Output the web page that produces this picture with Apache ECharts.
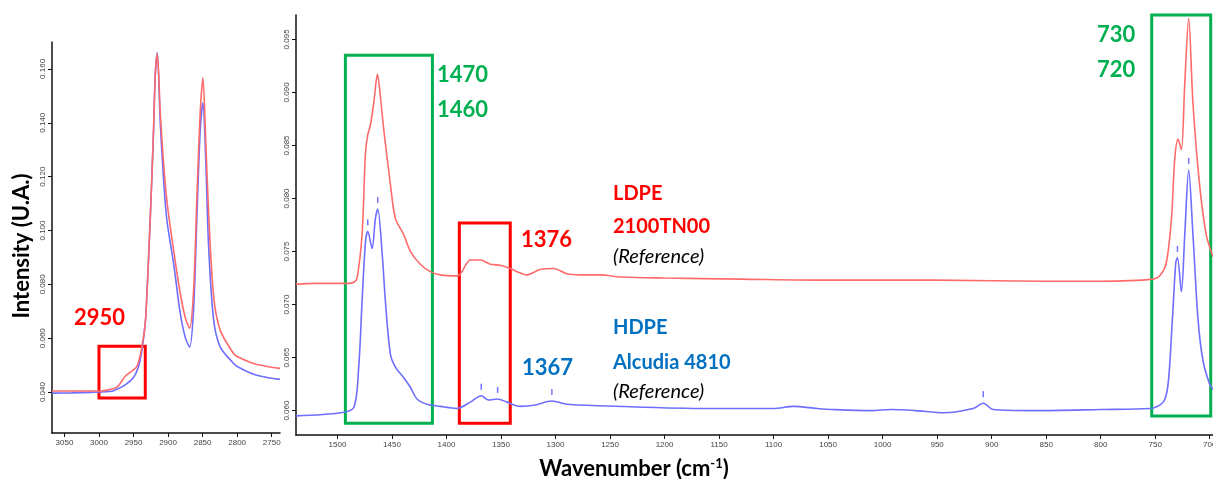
<!DOCTYPE html>
<html>
<head>
<meta charset="utf-8">
<script src="https://cdn.jsdelivr.net/npm/echarts@6/dist/echarts.min.js"></script>
<style>
  html, body { margin: 0; padding: 0; background: #fff; }
  #chart { width: 1213px; height: 479px; }
</style>
</head>
<body>
<div id="chart"></div>
<script>
// C-H stretching region (left panel): [wavenumber, intensity]
var ldpeCH = [
  [3068, 0.0404], [3040, 0.0404], [3010, 0.0404], [2998, 0.0404], [2985, 0.0409],
  [2974, 0.0418], [2962, 0.0459], [2954.6, 0.0474], [2945, 0.0496], [2937.7, 0.0571],
  [2933, 0.0656], [2930.5, 0.077], [2925.7, 0.105], [2921, 0.1373], [2918.5, 0.158],
  [2915.6, 0.1655], [2911.3, 0.1436], [2906.5, 0.125], [2901.7, 0.111], [2892, 0.0927],
  [2882.4, 0.0767], [2875.2, 0.0678], [2868.9, 0.0637], [2863, 0.078], [2858.3, 0.1124],
  [2853.5, 0.1436], [2849.6, 0.1567], [2846, 0.137], [2841.3, 0.1065], [2834, 0.0754],
  [2824.6, 0.063], [2805.5, 0.0544], [2800, 0.0532], [2775, 0.0505], [2750, 0.0492],
  [2738, 0.0488]
];
var hdpeCH = [
  [3068, 0.0396], [3040, 0.0397], [3010, 0.0399], [2998, 0.0400], [2985, 0.0402],
  [2978.8, 0.0405], [2962, 0.0427], [2950, 0.0454], [2942.6, 0.0496], [2937.7, 0.0558],
  [2933, 0.0656], [2930.5, 0.077], [2925.7, 0.105], [2921, 0.1373], [2918.5, 0.158],
  [2915.6, 0.166], [2911.3, 0.140], [2906.5, 0.119], [2901.7, 0.1038], [2892, 0.0878],
  [2882.4, 0.0693], [2875.2, 0.0604], [2868.9, 0.0567], [2863, 0.071], [2858.3, 0.105],
  [2853.5, 0.137], [2849.6, 0.1474], [2846, 0.130], [2841.3, 0.094], [2834, 0.0667],
  [2824.6, 0.0568], [2805.5, 0.0507], [2800, 0.0495], [2775, 0.0465], [2750, 0.0451],
  [2738, 0.0447]
];

// fingerprint region (right panel)
var ldpeFP = [
  [1538, 0.0719], [1520, 0.0720], [1500, 0.0720], [1490, 0.0720], [1485, 0.0721],
  [1482, 0.0725], [1477.4, 0.0766], [1474.3, 0.0843], [1472.2, 0.0860], [1469.8, 0.0869],
  [1466.7, 0.0890], [1463.3, 0.0917], [1460.5, 0.0895], [1457.5, 0.0865], [1451.4, 0.0813],
  [1446.8, 0.0781], [1439.2, 0.0766], [1433, 0.0750], [1424, 0.0738], [1414.8, 0.0731],
  [1405.6, 0.0728], [1390.4, 0.0727], [1385.8, 0.0731], [1382, 0.0738], [1378.1, 0.0742],
  [1369, 0.0742], [1359.8, 0.0738], [1350.6, 0.0737], [1341.5, 0.0734], [1335.4, 0.0731],
  [1326.2, 0.0728], [1314, 0.0733], [1301.8, 0.0734], [1289.6, 0.0729], [1277.4, 0.0728],
  [1259, 0.0728], [1240, 0.0726], [1200, 0.0725], [1130, 0.0724], [1050, 0.0723],
  [950, 0.0723], [850, 0.0722], [800, 0.0722], [752, 0.0724], [745, 0.0728],
  [739.7, 0.0740], [735.1, 0.0781], [732.1, 0.0837], [729.1, 0.0856], [726, 0.0846],
  [723, 0.0906], [719.3, 0.0970], [715.4, 0.0890], [709.3, 0.0813], [703.2, 0.0766],
  [697, 0.0745]
];
var hdpeFP = [
  [1538, 0.0595], [1497, 0.0598], [1485, 0.0603], [1480.5, 0.0641], [1477.4, 0.0703],
  [1474.3, 0.0759], [1472.2, 0.0769], [1468.2, 0.0753], [1465.2, 0.0781], [1463, 0.0790],
  [1459.1, 0.0750], [1456, 0.0703], [1451.4, 0.0653], [1446.8, 0.0641], [1439.2, 0.0631],
  [1433.1, 0.0622], [1427, 0.0611], [1417.8, 0.0606], [1405.6, 0.0604], [1390.4, 0.0602],
  [1378.1, 0.0608], [1368.1, 0.0614], [1361.4, 0.0610], [1353.1, 0.0611], [1344.6, 0.0608],
  [1332.3, 0.0604], [1320.1, 0.0605], [1303.3, 0.0609], [1289.6, 0.0606], [1271.3, 0.0605],
  [1167, 0.0602], [1100, 0.0602], [1081.8, 0.0604], [1060, 0.0602], [1045, 0.0601],
  [1010, 0.0600], [993, 0.0601], [970, 0.0600], [944, 0.0598], [917, 0.0602],
  [907.7, 0.0607], [898.6, 0.0601], [862, 0.0600], [800, 0.0601], [755, 0.0602],
  [742.7, 0.0608], [738.2, 0.0625], [734.2, 0.0687], [731.1, 0.0740], [729.6, 0.0744],
  [726, 0.0712], [722.9, 0.0766], [719.3, 0.0827], [715.4, 0.0766], [710.8, 0.0687],
  [706.2, 0.0647], [700.1, 0.0625], [697, 0.0620]
];
// small peak markers on the HDPE trace
var hdpePeaks = [
  [1472.2, 0.0769], [1463, 0.0790], [1368.1, 0.0614], [1353.1, 0.0611],
  [1303.3, 0.0609], [907.7, 0.0607], [729.6, 0.0744], [719.3, 0.0827]
];

// tick labels
var xTicksCH = [3050, 3000, 2950, 2900, 2850, 2800, 2750];
var yTicksCH = [0.04, 0.06, 0.08, 0.10, 0.12, 0.14, 0.16];
var xTicksFP = [1500, 1450, 1400, 1350, 1300, 1250, 1200, 1150, 1100, 1050, 1000, 950, 900, 850, 800, 750, 700];
var yTicksFP = [0.060, 0.065, 0.070, 0.075, 0.080, 0.085, 0.090, 0.095];

// highlighted bands: [from wn, to wn, low, high]
var boxCH = [[3000, 2933, 0.0378, 0.0570]];
var boxFPgreen = [[1492.7, 1412.9, 0.0588, 0.0935], [753.2, 699.1, 0.0595, 0.0973]];
var boxFPred = [[1388.2, 1341.5, 0.0588, 0.0777]];

var RED_LINE = '#ff6b6b', BLUE_LINE = '#6e6eff';
var GREEN = '#00b050', RED = '#ff0000', BLUE = '#0070c0';

function areas(list, color) {
  return list.map(function (b) {
    return [
      { xAxis: b[0], yAxis: b[2], itemStyle: { color: 'rgba(0,0,0,0)', borderColor: color, borderWidth: 3 } },
      { xAxis: b[1], yAxis: b[3] }
    ];
  });
}

function xAxisOf(idx, min, max, ticks) {
  return {
    type: 'value', gridIndex: idx, inverse: true, min: min, max: max,
    splitLine: { show: false },
    axisLine: { lineStyle: { color: '#111', width: 1.5 } },
    axisTick: { customValues: ticks, length: 4, lineStyle: { color: '#111' } },
    axisLabel: { customValues: ticks, fontSize: 8, color: '#444', margin: 6, fontFamily: 'Liberation Sans',
      formatter: function (v) { return String(v); } }
  };
}
function yAxisOf(idx, min, max, ticks) {
  return {
    type: 'value', gridIndex: idx, min: min, max: max,
    splitLine: { show: false },
    axisLine: { show: true, lineStyle: { color: '#111', width: 1.5 } },
    axisTick: { show: true, customValues: ticks, length: 4, lineStyle: { color: '#111' } },
    axisLabel: {
      customValues: ticks, rotate: 90, fontSize: 8, color: '#444', margin: 5, fontFamily: 'Liberation Sans',
      formatter: function (v) { return v.toFixed(3); }
    }
  };
}

var lineBase = { type: 'line', showSymbol: false, smooth: 0.3, animation: false };

function txt(s, x, y, color, font) {
  return { type: 'text', x: x, y: y, silent: true,
    style: { text: s, font: font, fill: color, align: 'left', verticalAlign: 'middle', textAlign: 'left', textVerticalAlign: 'middle' } };
}

var chart = echarts.init(document.getElementById('chart'));
var option = {
  animation: false,
  grid: [
    { left: 52, top: 42, width: 228, height: 391, containLabel: false, outerBoundsMode: 'none' },
    { left: 296, top: 15, width: 917, height: 420, containLabel: false, outerBoundsMode: 'none' }
  ],
  xAxis: [xAxisOf(0, 2738, 3068, xTicksCH), xAxisOf(1, 697, 1538, xTicksFP)],
  yAxis: [yAxisOf(0, 0.0248, 0.170, yTicksCH), yAxisOf(1, 0.0577, 0.0973, yTicksFP)],
  series: [
    Object.assign({}, lineBase, { name: 'HDPE', xAxisIndex: 0, yAxisIndex: 0, data: hdpeCH,
      lineStyle: { color: BLUE_LINE, width: 1.6 } }),
    Object.assign({}, lineBase, { name: 'LDPE', xAxisIndex: 0, yAxisIndex: 0, data: ldpeCH,
      lineStyle: { color: RED_LINE, width: 1.6 },
      markArea: { silent: true, data: areas(boxCH, RED) } }),
    Object.assign({}, lineBase, { name: 'LDPE', xAxisIndex: 1, yAxisIndex: 1, data: ldpeFP,
      lineStyle: { color: RED_LINE, width: 1.6 } }),
    Object.assign({}, lineBase, { name: 'HDPE', xAxisIndex: 1, yAxisIndex: 1, data: hdpeFP,
      lineStyle: { color: BLUE_LINE, width: 1.6 },
      markArea: { silent: true, data: areas(boxFPgreen, GREEN).concat(areas(boxFPred, RED)) } }),
    { type: 'scatter', xAxisIndex: 1, yAxisIndex: 1, data: hdpePeaks, symbol: 'rect',
      symbolSize: [1.5, 6], symbolOffset: [0, -9], itemStyle: { color: '#5050ff' }, silent: true }
  ],
  graphic: [
    { type: 'text', x: 22, y: 246, rotation: Math.PI / 2,
      style: { text: 'Intensity (U.A.)', font: 'bold 22px Lato', fill: '#000', align: 'center', verticalAlign: 'middle', textAlign: 'center', textVerticalAlign: 'middle' } },
    { type: 'text', x: 634, y: 469,
      style: {
        text: '{a|Wavenumber (cm}{s|-1}{a|)}', align: 'center', verticalAlign: 'middle', textAlign: 'center', textVerticalAlign: 'middle',
        rich: {
          a: { font: 'bold 22px Lato', fill: '#000', lineHeight: 24 },
          s: { font: 'bold 13px Lato', fill: '#000', lineHeight: 24, verticalAlign: 'top' }
        }
      } },
    txt('2950', 74, 318, RED, 'bold 22px Lato'),
    txt('1470', 437, 75, GREEN, 'bold 22px Lato'),
    txt('1460', 437, 110, GREEN, 'bold 22px Lato'),
    txt('1376', 521, 240, RED, 'bold 22px Lato'),
    txt('1367', 522, 368, BLUE, 'bold 22px Lato'),
    txt('730', 1097, 35, GREEN, 'bold 22px Lato'),
    txt('720', 1097, 70, GREEN, 'bold 22px Lato'),
    txt('LDPE', 613, 194, RED, 'bold 20px Lato'),
    txt('2100TN00', 613, 227, RED, 'bold 20px Lato'),
    txt('(Reference)', 613, 257, '#000', 'italic 20px Lato'),
    txt('HDPE', 613, 328, BLUE, 'bold 20px Lato'),
    txt('Alcudia 4810', 613, 363, BLUE, 'bold 20px Lato'),
    txt('(Reference)', 613, 392, '#000', 'italic 20px Lato')
  ]
};

chart.setOption(option);
</script>
</body>
</html>
